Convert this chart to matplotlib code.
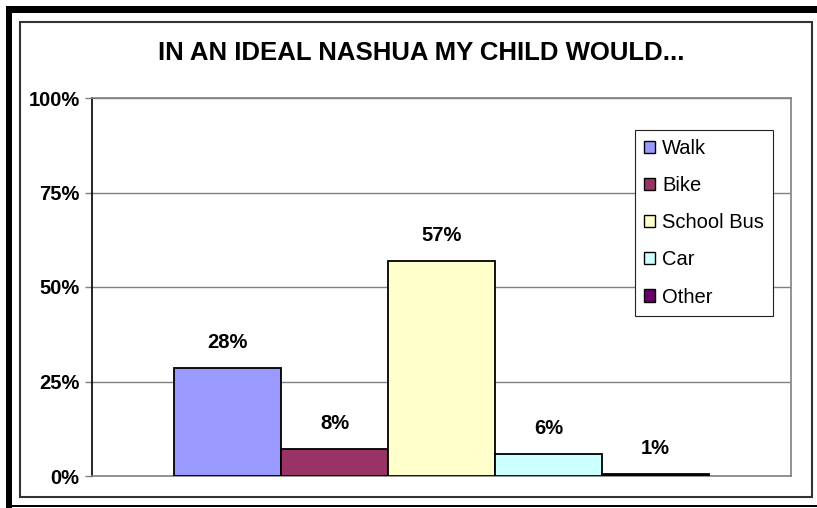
import matplotlib.pyplot as plt
from matplotlib.patches import Rectangle
import matplotlib.ticker as mtick

modes = ['Walk', 'Bike', 'School Bus', 'Car', 'Other']
shares = [28.5, 7.2, 56.9, 5.7, 0.6]
share_labels = ['28%', '8%', '57%', '6%', '1%']
colors = ['#9999FF', '#993366', '#FFFFCC', '#CCFFFF', '#660066']
yticks = [0, 25, 50, 75, 100]

plt.rcParams['font.family'] = ['Liberation Sans', 'DejaVu Sans']

W, H = 817, 508
fig = plt.figure(figsize=(W / 100, H / 100), dpi=100)

# frames around the chart (pixel boxes)
def px_rect(x0, y0, x1, y1, **kw):
    fig.patches.append(Rectangle((x0 / W, 1 - y1 / H), (x1 - x0) / W, (y1 - y0) / H,
                                 transform=fig.transFigure, figure=fig, **kw))

px_rect(6, 6, 12, 508, facecolor='black', edgecolor='none')
px_rect(6, 6, 817, 13, facecolor='black', edgecolor='none')
px_rect(6, 505, 817, 507, facecolor='black', edgecolor='none')
px_rect(20, 22, 812, 497, facecolor='none', edgecolor='#333333', linewidth=1.5)

ax = fig.add_axes([92 / W, 1 - 476 / H, (791 - 92) / W, (476 - 98) / H])

x = list(range(len(modes)))
bars = ax.bar(x, shares, width=1.0, color=colors, edgecolor='black', linewidth=1.3,
              label=modes, zorder=3)

for b, lab in zip(bars, share_labels):
    ax.annotate(lab, (b.get_x() + b.get_width() / 2, b.get_height()),
                xytext=(0, 18.5), textcoords='offset points', ha='center', va='center',
                fontsize=14.5, fontweight='bold')

ax.set_xlim(-0.5 - 0.766, len(modes) - 0.5 + 0.766)
ax.set_ylim(0, 100)
ax.set_yticks(yticks)
ax.yaxis.set_major_formatter(mtick.FuncFormatter(lambda v, p: '%d%%' % v))
ax.set_xticks([])
for t in ax.get_yticklabels():
    t.set_fontweight('bold')
ax.tick_params(axis='y', labelsize=14.5, length=5, width=1, color='#808080', pad=4)
ax.grid(axis='y', color='#808080', linewidth=1, zorder=0)
for s in ['top', 'right', 'bottom']:
    ax.spines[s].set_color('#808080')
    ax.spines[s].set_linewidth(1.2)
ax.spines['left'].set_color('black')
ax.spines['left'].set_linewidth(1.2)

fig.text(421 / W, 1 - 53 / H, 'IN AN IDEAL NASHUA MY CHILD WOULD...', ha='center', va='center',
         fontsize=18.5, fontweight='bold')

leg = ax.legend(handles=list(bars), labels=modes, loc='upper left',
                bbox_to_anchor=(635 / W, 1 - 130 / H), bbox_transform=fig.transFigure,
                fontsize=14.5, frameon=True, fancybox=False, framealpha=1,
                edgecolor='#222222', handlelength=0.55, handleheight=0.55,
                handletextpad=0.35, labelspacing=0.9, borderpad=0.45, borderaxespad=0)
leg.get_frame().set_linewidth(0.8)
for h in leg.legend_handles:
    h.set_linewidth(1)

fig.savefig('out.png', dpi=100)
